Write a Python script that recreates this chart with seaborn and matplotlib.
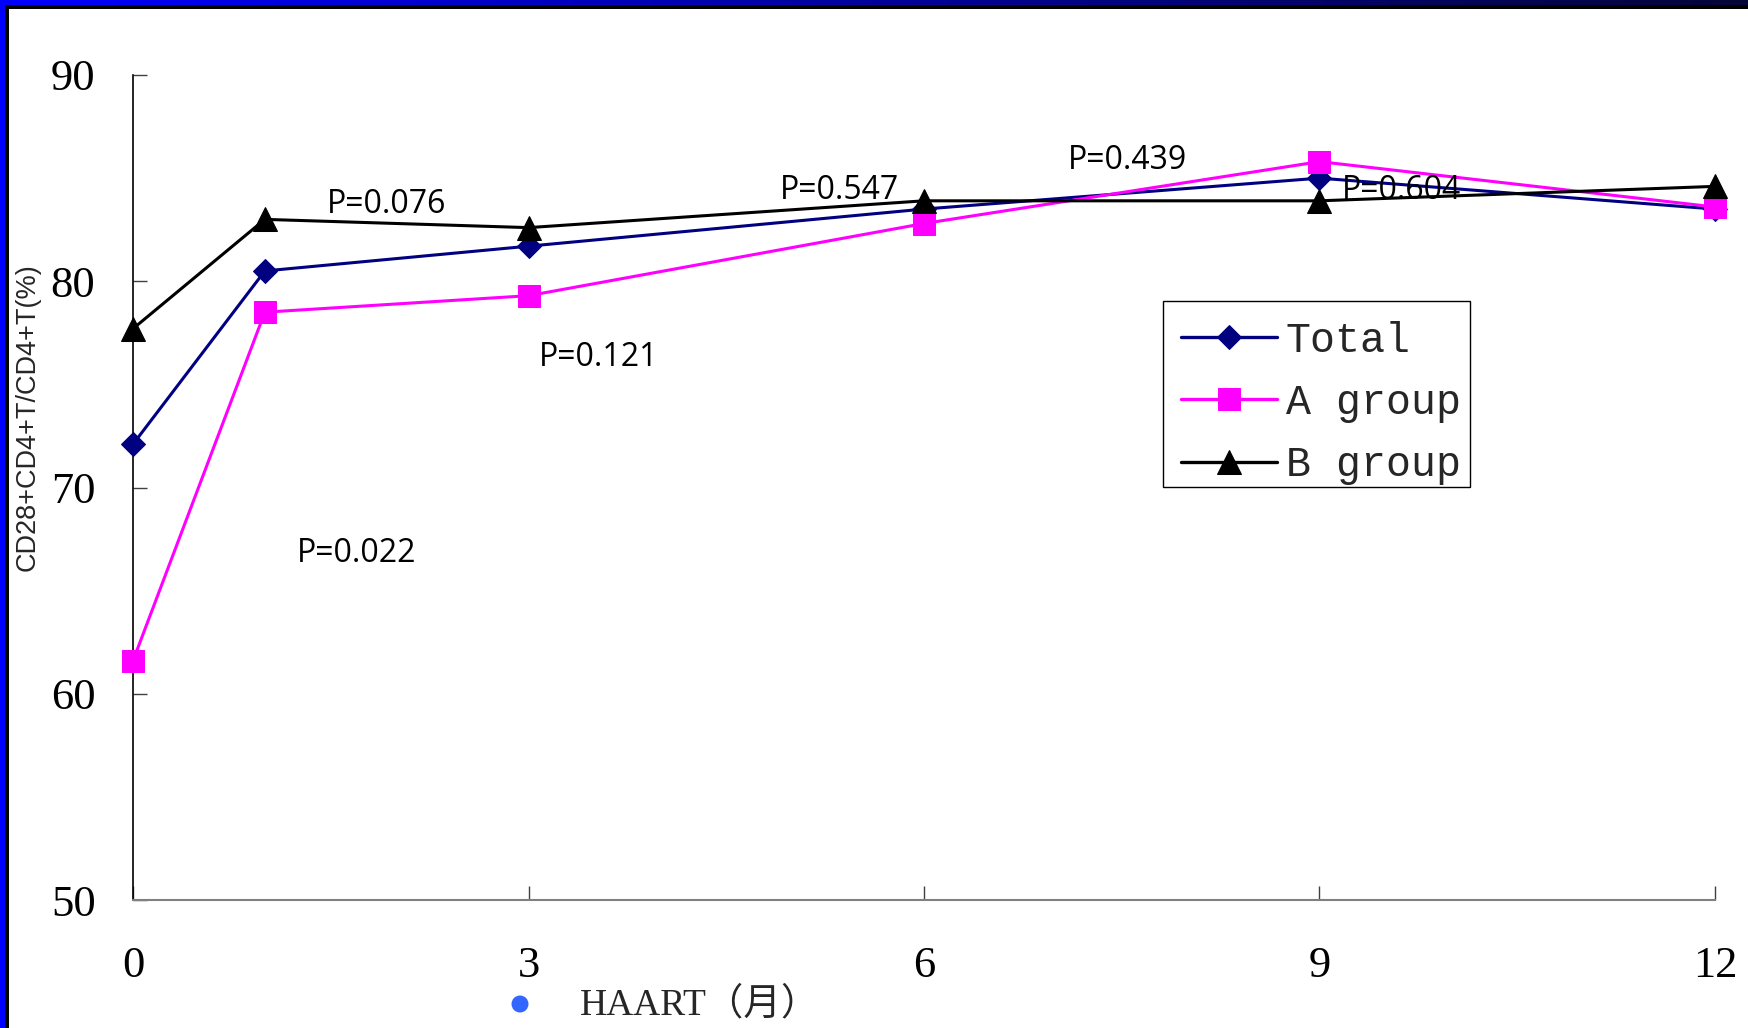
import numpy as np
import pandas as pd
import matplotlib
matplotlib.use("Agg")
import matplotlib.pyplot as plt
import seaborn as sns
from matplotlib.patches import Rectangle, Circle

# Follow-up months under HAART
months = [0, 1, 3, 6, 9, 12]

# CD28+CD4+T / CD4+T (%) per group
total = [72.1, 80.5, 81.7, 83.5, 85.0, 83.5]
group_a = [61.6, 78.5, 79.3, 82.8, 85.8, 83.6]
group_b = [77.7, 83.0, 82.6, 83.9, 83.9, 84.6]

series_names = ["Total", "A group", "B group"]

# P-value annotations: text, x (months), y (%)
p_texts = ["P=0.076", "P=0.022", "P=0.121", "P=0.547", "P=0.439", "P=0.604"]
p_x = [1.47, 1.24, 3.08, 4.91, 7.09, 9.17]
p_y = [83.9, 67.0, 76.5, 84.6, 86.05, 84.6]

x_ticks = [0, 3, 6, 9, 12]
y_ticks = [50, 60, 70, 80, 90]

sns.set_theme(style="white")
plt.rcParams["font.family"] = ["Liberation Serif", "Noto Sans CJK SC"]

W, H = 1748, 1028
fig = plt.figure(figsize=(W / 100, H / 100), dpi=100)
fig.patch.set_facecolor("white")

ax = fig.add_axes([133 / W, 1 - 900 / H, (1715 - 133) / W, (900 - 75) / H])

df = pd.DataFrame({
    "month": months * 3,
    "value": total + group_a + group_b,
    "series": [series_names[0]] * 6 + [series_names[1]] * 6 + [series_names[2]] * 6,
})

styles = {
    "Total": dict(color="#000080", marker="D", markersize=12),
    "A group": dict(color="#FF00FF", marker="s", markersize=16),
    "B group": dict(color="#000000", marker="^", markersize=17),
}

for name in series_names:
    sub = df[df["series"] == name]
    st = styles[name]
    sns.lineplot(data=sub, x="month", y="value", ax=ax, label=name,
                 color=st["color"], marker=st["marker"], markersize=st["markersize"],
                 markeredgecolor=st["color"], markerfacecolor=st["color"],
                 linewidth=2.2, clip_on=False, zorder=3)

ax.set_xlim(0, 12)
ax.set_ylim(50, 90)
ax.set_xticks(x_ticks)
ax.set_yticks(y_ticks)
ax.set_xticklabels([str(t) for t in x_ticks])
ax.set_yticklabels([str(t) for t in y_ticks])
ax.tick_params(axis="both", which="major", direction="in", length=10, width=1.0,
               colors="#404040", labelcolor="black", labelsize=32,
               bottom=True, left=True, top=False, right=False)
ax.tick_params(axis="y", pad=27)
ax.tick_params(axis="x", pad=33)
for lab in ax.get_xticklabels() + ax.get_yticklabels():
    lab.set_family("Liberation Serif")

for side in ["top", "right"]:
    ax.spines[side].set_visible(False)
ax.spines["left"].set_color("black")
ax.spines["left"].set_linewidth(1.2)
ax.spines["bottom"].set_color("#808080")
ax.spines["bottom"].set_linewidth(1.5)
ax.set_xlabel("")
ax.set_ylabel("")

for t, px, py in zip(p_texts, p_x, p_y):
    ax.text(px, py - 0.2, t, ha="left", va="center", fontsize=23,
            family=["Open Sans", "DejaVu Sans"], color="black", zorder=5)

# Legend box drawn separately so the entries can sit a little low inside it
ax.add_patch(Rectangle((0.651, 0.5006), 0.194, 0.2254, transform=ax.transAxes,
                       facecolor="white", edgecolor="black", lw=1.0,
                       clip_on=False, zorder=4))
leg = ax.legend(loc="upper left", bbox_to_anchor=(0.654, 0.718), borderaxespad=0,
                frameon=False,
                prop={"family": "Liberation Mono", "size": 30},
                handlelength=2.3, handletextpad=0.22, labelspacing=0.53,
                borderpad=0.32)
leg.set_zorder(6)
for h in leg.legend_handles:
    h.set_linewidth(2.4)

# y-axis title and x-axis caption
fig.text(28 / W, 1 - 417 / H, "CD28+CD4+T/CD4+T(%)", rotation=90, ha="center", va="center",
         fontsize=19.5, family=["Liberation Sans", "DejaVu Sans"])
fig.text(580 / W, 1 - 1005 / H, "HAART（月）", ha="left", va="center", fontsize=27,
         family=["Liberation Serif", "Noto Sans CJK SC"])

# Decorative frame along the top and left edges
bg = fig.add_axes([0, 0, 1, 1], zorder=10)
bg.set_axis_off()
grad = np.linspace(0, 1, 256)
c0 = np.array([0.0, 0.0, 1.0])
c1 = np.array([0.02, 0.02, 0.22])
img = (c0[None, :] * (1 - grad[:, None]) + c1[None, :] * grad[:, None])[None, :, :]
bg.imshow(img, extent=(0, W, 5, 0), aspect="auto", interpolation="bilinear")
bg.add_patch(Rectangle((0, 5), W, 4, color="black", lw=0))
bg.add_patch(Rectangle((0, 0), 5, H, color="#0000FF", lw=0))
bg.add_patch(Rectangle((5, 5), 4, H, color="black", lw=0))
bg.add_patch(Circle((520, 1004), 8.5, color="#3366FF", lw=0))
bg.set_xlim(0, W)
bg.set_ylim(H, 0)

fig.savefig("out.png", dpi=100, facecolor="white")
